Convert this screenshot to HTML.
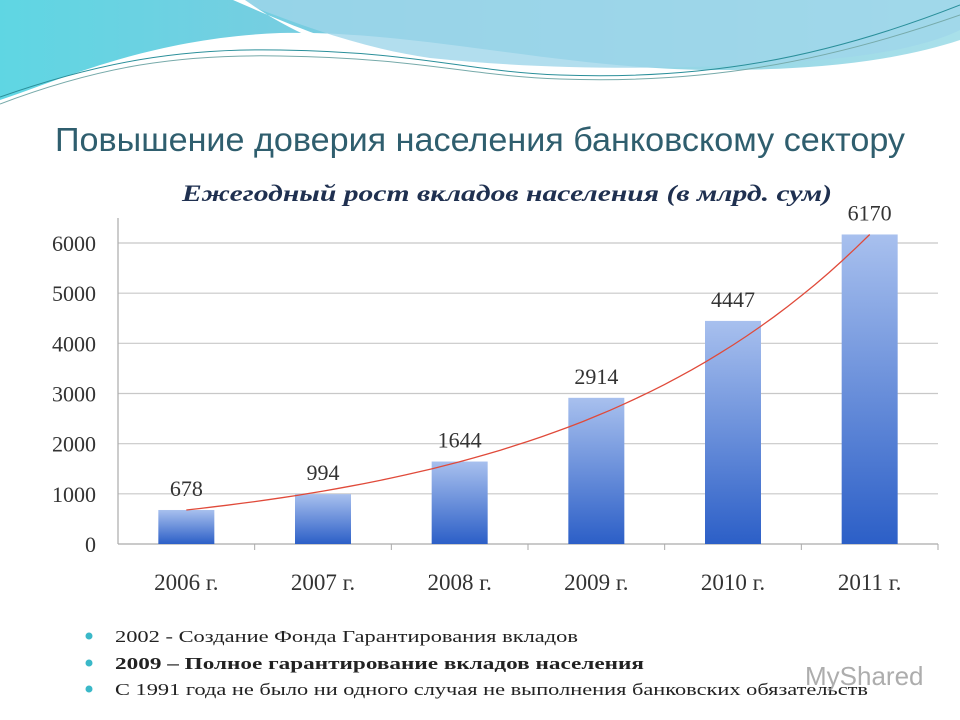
<!DOCTYPE html>
<html><head><meta charset="utf-8"><style>
body{margin:0;width:960px;height:720px;overflow:hidden;background:#fff;font-family:"Liberation Sans",sans-serif}
svg{position:absolute;left:0;top:0}
</style></head><body>
<svg width="960" height="720">
<defs>
<linearGradient id="bg" x1="0" y1="0" x2="1" y2="0"><stop offset="0" stop-color="#5fd6e3"/><stop offset="0.4" stop-color="#7ecbe0"/><stop offset="1" stop-color="#a9e0ea"/></linearGradient>
<linearGradient id="bar" x1="0" y1="0" x2="0" y2="1"><stop offset="0" stop-color="#a8c0ee"/><stop offset="1" stop-color="#2c5fc7"/></linearGradient>
</defs>
<g>
<path d="M0 0H960V40C900 60 820 70 720 70C560 70 420 30 280 33C150 38 60 80 0 100Z" fill="url(#bg)"/>
<path d="M235 0C300 25 360 48 430 58C560 72 720 70 840 58C900 52 940 40 960 30V0Z" fill="#9fd6ea" opacity="0.8"/>
<path d="M233 0C290 25 350 50 410 60L385 62C330 50 280 25 245 0Z" fill="#fff"/>
<path d="M0 97C100 62 180 48 280 50C420 52 470 72 560 75C700 80 820 60 960 5" stroke="#2a8f9a" stroke-width="1" fill="none"/>
<path d="M0 104C100 66 180 54 280 56C420 58 470 76 560 79C700 84 820 64 960 15" stroke="#7aa" stroke-width="1" fill="none"/>
</g>
<text x="55" y="151" textLength="850" lengthAdjust="spacingAndGlyphs" font-size="33" fill="#2f5e6e">Повышение доверия населения банковскому сектору</text>
<text x="182" y="201" textLength="650" lengthAdjust="spacingAndGlyphs" font-family="Liberation Serif" font-style="italic" font-weight="bold" font-size="23" fill="#1f3050">Ежегодный рост вкладов населения  (в млрд. сум)</text>
<g id="chart"></g>
<g font-family="Liberation Serif" font-size="17" fill="#222">
<circle cx="89" cy="636" r="3.5" fill="#3ab8c8"/><text x="115" y="642" textLength="463" lengthAdjust="spacingAndGlyphs">2002 - Создание Фонда Гарантирования вкладов</text>
<circle cx="89" cy="663" r="3.5" fill="#3ab8c8"/><text x="115" y="669" textLength="529" lengthAdjust="spacingAndGlyphs" font-weight="bold">2009 – Полное гарантирование вкладов населения</text>
<circle cx="89" cy="689" r="3.5" fill="#3ab8c8"/><text x="115" y="695" textLength="753" lengthAdjust="spacingAndGlyphs">С 1991 года не было ни одного случая не выполнения банковских обязательств</text>
</g>
<text x="805" y="685" font-size="26" fill="#999" opacity="0.8">MyShared</text>
</svg>
<script>
const categories=["2006 г.","2007 г.","2008 г.","2009 г.","2010 г.","2011 г."];
const values=[678,994,1644,2914,4447,6170];
const yTicks=[0,1000,2000,3000,4000,5000,6000];
const NS="http://www.w3.org/2000/svg";
const g=document.getElementById('chart');
const x0=118,x1=938,yBase=544,yPer=301/6000;
const band=(x1-x0)/categories.length;
const y=v=>yBase-v*yPer, xc=i=>x0+band*(i+0.5);
function mk(t,a,p){const e=document.createElementNS(NS,t);for(const k in a)e.setAttribute(k,a[k]);(p||g).appendChild(e);return e;}
yTicks.forEach(t=>{
 const l=mk('line',{x1:x0,x2:x1,y1:y(t),y2:y(t),stroke:t?'#c8c8c8':'#aaa','stroke-width':1.2});
 
 
 const tx=mk('text',{x:96,y:y(t)+8,'text-anchor':'end','font-family':'Liberation Serif','font-size':22,fill:'#333'});tx.textContent=t;
 
 
});
mk('line',{x1:x0,x2:x0,y1:218,y2:yBase,stroke:'#aaa','stroke-width':1.2});
categories.forEach((c,i)=>{
 mk('line',{x1:x0+band*(i+1),x2:x0+band*(i+1),y1:yBase,y2:yBase+6,stroke:'#aaa'});
 const r=mk('rect',{x:xc(i)-28,y:y(values[i]),width:56,height:yBase-y(values[i]),fill:'url(#bar)'});
 
 
 const vl=mk('text',{x:xc(i),y:y(values[i])-14,'text-anchor':'middle','font-family':'Liberation Serif','font-size':22,fill:'#333'});vl.textContent=values[i];
 
 
 const cl=mk('text',{x:xc(i),y:590,'text-anchor':'middle','font-family':'Liberation Serif','font-size':23,fill:'#333'});cl.textContent=c;
 
 
});
const n=values.length-1,k=Math.log(values[n]/values[0])/n;
let d='';for(let s=0;s<=50;s++){const t=s/50*n;d+=(s?'L':'M')+xc(t).toFixed(1)+' '+y(values[0]*Math.exp(k*t)).toFixed(1);}
const tr=mk('path',{d:d,stroke:'#e04a3a','stroke-width':1.3,fill:'none'});


</script>
</body></html>
